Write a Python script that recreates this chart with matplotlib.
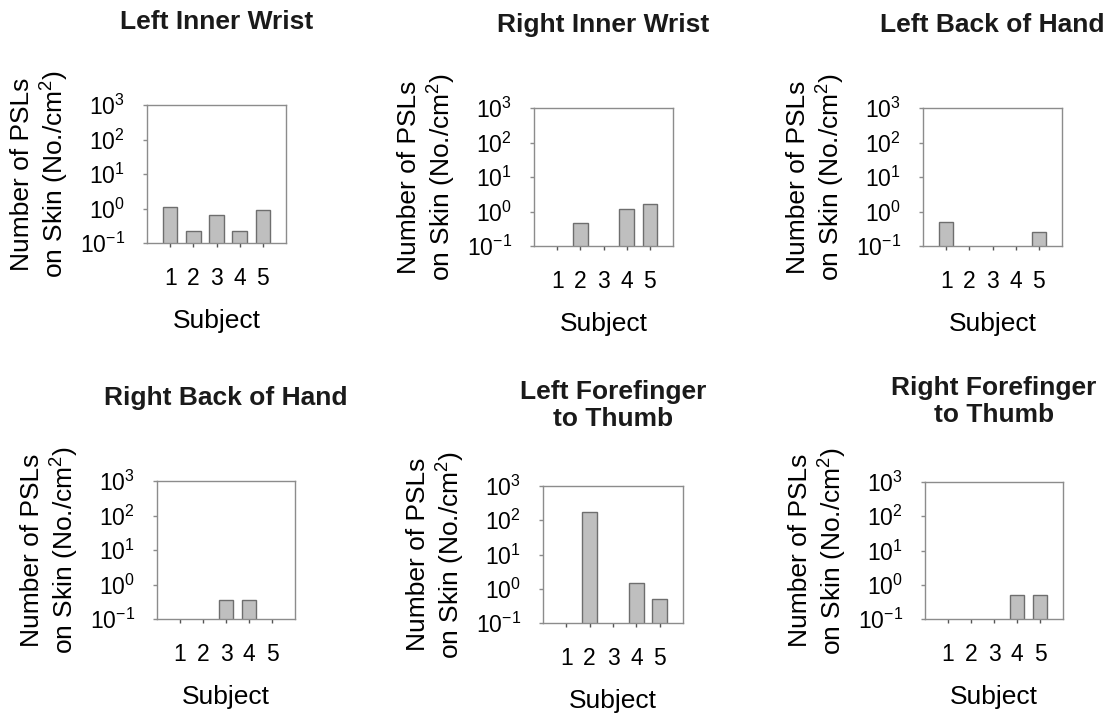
import numpy as np
import matplotlib
matplotlib.use("Agg")
import matplotlib.pyplot as plt
from matplotlib.ticker import LogLocator, LogFormatterSciNotation, NullLocator

plt.rcParams['font.family'] = ['Liberation Sans', 'DejaVu Sans']
plt.rcParams['mathtext.fontset'] = 'custom'
plt.rcParams['mathtext.rm'] = 'Liberation Sans'
plt.rcParams['mathtext.it'] = 'Liberation Sans:italic'
plt.rcParams['mathtext.bf'] = 'Liberation Sans:bold'

subjects = ['1', '2', '3', '4', '5']
nan = np.nan

titles = ['Left Inner Wrist', 'Right Inner Wrist', 'Left Back of Hand',
          'Right Back of Hand', 'Left Forefinger\nto Thumb', 'Right Forefinger\nto Thumb']

left_inner_wrist = [1.1, 0.23, 0.67, 0.23, 0.88]
right_inner_wrist = [nan, 0.45, nan, 1.17, 1.6]
left_back_hand = [0.51, nan, nan, nan, 0.25]
right_back_hand = [nan, nan, 0.36, 0.36, nan]
left_forefinger = [nan, 173, nan, 1.52, 0.51]
right_forefinger = [nan, nan, nan, 0.50, 0.50]

series = [left_inner_wrist, right_inner_wrist, left_back_hand,
          right_back_hand, left_forefinger, right_forefinger]

W, H = 1112, 715
# axes boxes in pixels: left, top, right, bottom
boxes = [(147, 105, 286, 243), (534, 108, 673, 246), (923, 108, 1062, 246),
         (157, 481, 295, 619), (543, 486, 683, 623), (925, 482, 1063, 619)]
title_pads = [55, 55, 55, 55, 43, 43]

fig = plt.figure(figsize=(W / 100, H / 100), dpi=100)

grey = '#8c8c8c'
for i in range(6):
    l, t, r, b = boxes[i]
    ax = fig.add_axes([l / W, 1 - b / H, (r - l) / W, (b - t) / H])
    x = np.arange(1, 6)
    ax.bar(x, series[i], width=0.63, color='#bfbfbf', edgecolor='#6e6e6e', linewidth=1.0)
    ax.set_yscale('log')
    ax.set_ylim(0.1, 1000)
    ax.set_xlim(0, 6)
    ax.yaxis.set_major_locator(LogLocator(base=10, numticks=10))
    ax.yaxis.set_major_formatter(LogFormatterSciNotation())
    ax.yaxis.set_minor_locator(NullLocator())
    ax.set_xticks(x)
    ax.set_xticklabels(subjects)
    for s in ax.spines.values():
        s.set_color(grey)
        s.set_linewidth(1.0)
    ax.tick_params(axis='x', direction='out', length=3, width=1, color='#555555', pad=14, labelsize=16.5)
    ax.tick_params(axis='y', direction='out', length=3, width=1, color=grey, pad=13, labelsize=16.5)
    ax.set_xlabel('Subject', fontsize=19, labelpad=14)
    ax.set_ylabel('Number of PSLs\non Skin (No./cm$^2$)', fontsize=19, labelpad=6, linespacing=1.2)
    ax.set_title(titles[i], fontsize=19, fontweight='bold', pad=title_pads[i], color='#1a1a1a', linespacing=1.15)

plt.savefig('out.png', dpi=100)
